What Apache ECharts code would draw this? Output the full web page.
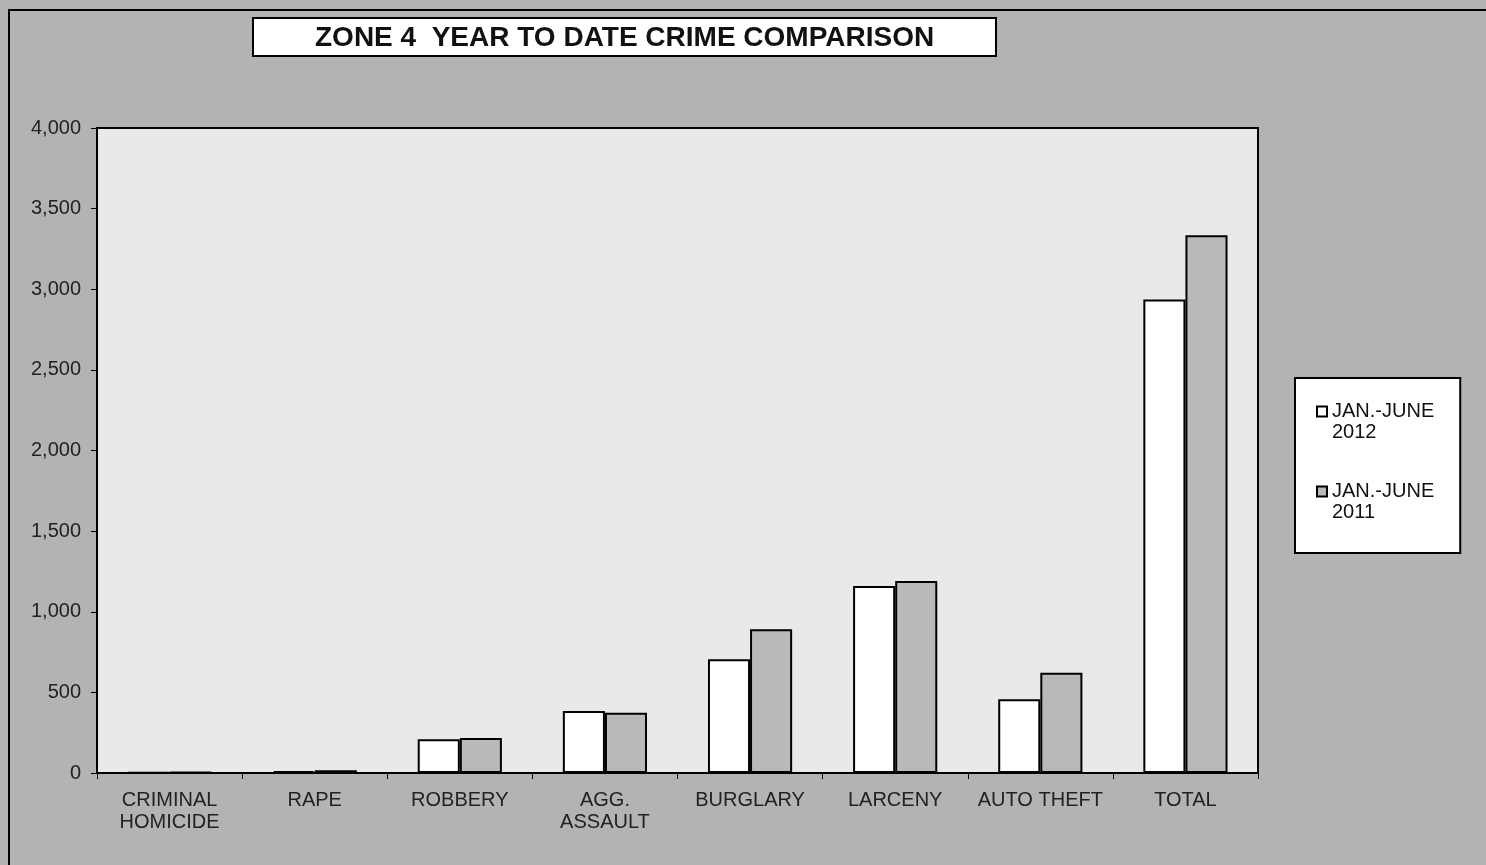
<!DOCTYPE html>
<html>
<head>
<meta charset="utf-8">
<script src="https://cdn.jsdelivr.net/npm/echarts@6/dist/echarts.min.js"></script>
<style>
  html, body { margin: 0; padding: 0; background: #b3b3b3; }
  #chart { width: 1486px; height: 865px; }
</style>
</head>
<body>
<div id="chart"></div>
<script>
const categories = ['CRIMINAL\nHOMICIDE', 'RAPE', 'ROBBERY', 'AGG.\nASSAULT', 'BURGLARY', 'LARCENY', 'AUTO THEFT', 'TOTAL'];
const seriesNames = ['JAN.-JUNE\n2012', 'JAN.-JUNE\n2011'];
const values2012 = [4, 12, 209, 384, 705, 1160, 457, 2937];
const values2011 = [6, 17, 217, 374, 891, 1191, 622, 3335];

const chart = echarts.init(document.getElementById('chart'));

const font = 'Arial, "Liberation Sans", sans-serif';

const option = {
    backgroundColor: '#b3b3b3',
    animation: false,
    title: {
        text: 'ZONE 4  YEAR TO DATE CRIME COMPARISON',
        left: 253,
        top: 18,
        backgroundColor: '#ffffff',
        borderColor: '#000000',
        borderWidth: 2,
        padding: [6, 62, 4, 62],
        textStyle: { fontFamily: font, fontSize: 28, fontWeight: 'bold', color: '#111' }
    },
    legend: {
        orient: 'vertical',
        left: 1295,
        top: 378,
        backgroundColor: '#ffffff',
        borderColor: '#000000',
        borderWidth: 2,
        padding: [2, 26, 30, 21],
        itemGap: 17,
        itemWidth: 10,
        itemHeight: 10,
        icon: 'rect',
        formatter: name => '\n' + name,
        textStyle: { fontFamily: font, fontSize: 20, color: '#111', lineHeight: 21 },
        data: seriesNames
    },
    grid: {
        left: 97,
        right: 228,
        top: 128,
        bottom: 92,
        show: true,
        backgroundColor: '#e9e9e9',
        borderColor: '#000000',
        borderWidth: 2
    },
    xAxis: {
        type: 'category',
        data: categories,
        axisLine: { lineStyle: { color: '#000', width: 2 } },
        axisTick: { show: true, length: 6, lineStyle: { color: '#000' } },
        axisLabel: { fontFamily: font, fontSize: 20, color: '#222', margin: 16, lineHeight: 22, interval: 0 }
    },
    yAxis: {
        type: 'value',
        min: 0,
        max: 4000,
        interval: 500,
        splitLine: { show: false },
        axisLine: { show: true, lineStyle: { color: '#000', width: 2 } },
        axisTick: { show: true, length: 6, lineStyle: { color: '#000' } },
        axisLabel: {
            fontFamily: font, fontSize: 20, color: '#222', margin: 16,
            formatter: v => v.toLocaleString('en-US')
        }
    },
    series: [
        {
            name: seriesNames[0],
            type: 'bar',
            data: values2012,
            barGap: '0%',
            barCategoryGap: '42%',
            itemStyle: { color: '#ffffff', borderColor: '#000', borderWidth: 2 }
        },
        {
            name: seriesNames[1],
            type: 'bar',
            data: values2011,
            itemStyle: { color: '#b9b9b9', borderColor: '#000', borderWidth: 2 }
        }
    ],
    graphic: [
        {
            type: 'rect',
            shape: { x: 9, y: 10, width: 1490, height: 870 },
            style: { fill: 'none', stroke: '#000', lineWidth: 2 },
            silent: true
        }
    ]
};

chart.setOption(option);
</script>
</body>
</html>
